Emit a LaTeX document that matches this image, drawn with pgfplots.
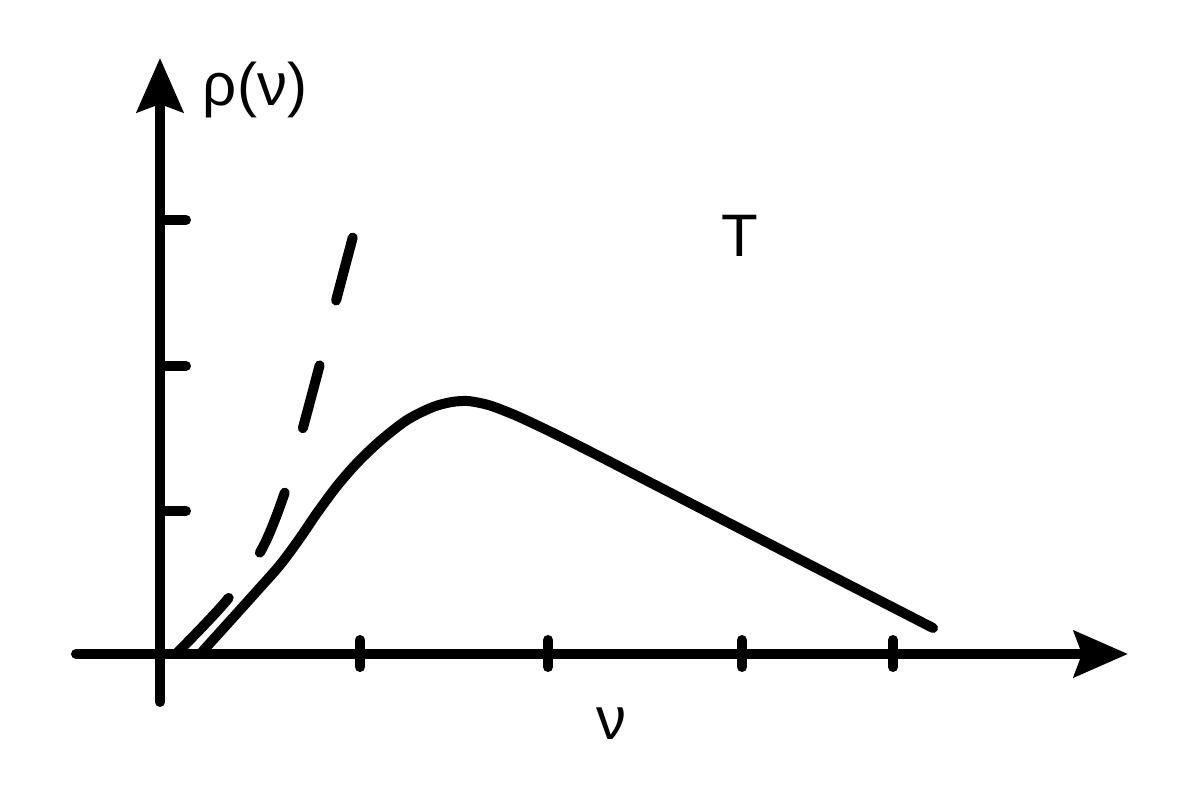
\documentclass[border=0pt]{standalone}
\usepackage{fontspec}
\setmainfont{Liberation Sans}
\usepackage{pgfplots}
\pgfplotsset{compat=1.18}
\usetikzlibrary{arrows.meta}
\begin{document}
\begin{tikzpicture}
\begin{axis}[
  hide axis, scale only axis, clip=false,
  width=600pt, height=393.5pt,
  xmin=-160, xmax=1040, ymin=-133, ymax=654,
]
% frame for bounding box
\addplot[draw=none] coordinates {(-160,-133) (1040,654)};
% axes
\addplot[line width=5pt, line cap=round, -{Stealth[length=27pt,width=23pt,inset=4pt]}] coordinates {(-84,0) (968,0)};
\addplot[line width=5pt, line cap=round, -{Stealth[length=27pt,width=23pt,inset=4pt]}] coordinates {(0,-48) (0,596)};
% y ticks
\addplot[line width=5pt, line cap=round] coordinates {(0,434) (26,434)};
\addplot[line width=5pt, line cap=round] coordinates {(0,288) (26,288)};
\addplot[line width=5pt, line cap=round] coordinates {(0,143) (26,143)};
% x ticks
\addplot[line width=5pt, line cap=round] coordinates {(200,14) (200,-13)};
\addplot[line width=5pt, line cap=round] coordinates {(388,14) (388,-13)};
\addplot[line width=5pt, line cap=round] coordinates {(582,14) (582,-13)};
\addplot[line width=5pt, line cap=round] coordinates {(733,14) (733,-13)};
% Planck curve
\addplot[line width=5pt, line cap=round, smooth, tension=0.5] coordinates {
(42,2) (70,33) (97,63) (120,89) (140,116) (157,141) (177,168) (197,191)
(220,213) (247,234) (273,247) (292,252) (307,253) (320,251) (333,247.5)
(357,238) (390,222.5) (433,201) (500,166.5) (567,132) (633,98) (700,63.5) (773,26)};
% Rayleigh-Jeans
\addplot[line width=5pt, line cap=round, smooth, tension=0.5,
  dash pattern=on 38.5pt off 27.5pt on 32.5pt off 33.5pt on 32.5pt off 33.5pt on 32.5pt off 33.5pt on 32.5pt off 33.5pt] coordinates {
(16,0) (67,54) (103,107) (127,168) (144,230) (161,294) (177,357) (195,425)};
% labels
\node[anchor=base, font=\fontsize{30}{34}\selectfont] at (axis cs:95,548) {ρ(ν)};
\node[anchor=base, font=\fontsize{30}{34}\selectfont] at (axis cs:580,397) {T};
\node[anchor=base, font=\fontsize{30}{34}\selectfont] at (axis cs:451,-86) {ν};
\end{axis}
\end{tikzpicture}
\end{document}
